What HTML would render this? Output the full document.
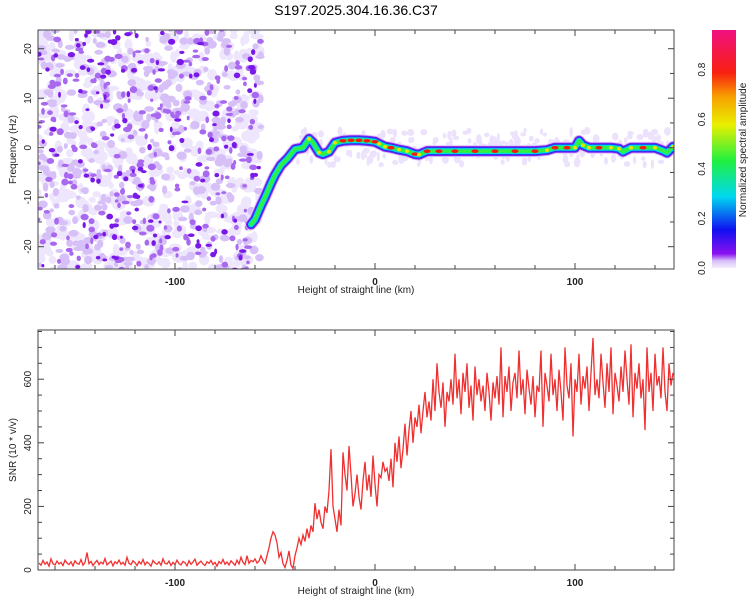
<!DOCTYPE html>
<html><head><meta charset="utf-8"><style>
body{margin:0;background:#fff;width:750px;height:600px;overflow:hidden;font-family:"Liberation Sans",sans-serif}
svg text{font-family:"Liberation Sans",sans-serif}
</style></head><body>
<svg id="c" width="750" height="600" viewBox="0 0 750 600" xmlns="http://www.w3.org/2000/svg">
<defs>
<linearGradient id="cb" x1="0" y1="1" x2="0" y2="0">
<stop offset="0" stop-color="#f4eefc"/><stop offset="0.03" stop-color="#d8c0f8"/><stop offset="0.06" stop-color="#8a10f0"/>
<stop offset="0.16" stop-color="#1010f0"/><stop offset="0.3" stop-color="#00d8f0"/><stop offset="0.45" stop-color="#20f040"/>
<stop offset="0.6" stop-color="#e8f000"/><stop offset="0.72" stop-color="#f8a000"/><stop offset="0.82" stop-color="#f82010"/>
<stop offset="1" stop-color="#f01080"/></linearGradient>
<clipPath id="clipTop"><rect x="38" y="30" width="636" height="239"/></clipPath>
<clipPath id="clipBot"><rect x="38" y="330" width="636" height="240"/></clipPath>
</defs>
<text x="356" y="15" font-size="14" text-anchor="middle">S197.2025.304.16.36.C37</text>
<g id="topPanel"></g>
<g id="botPanel"></g>
<g id="cbar">
<rect x="712" y="30" width="24" height="238" fill="url(#cb)"/>
</g>
</svg>
<script>
// ---- data ----
const ridgeKm  = [-62,-60,-57,-55,-52,-50,-47,-44,-40,-36,-33,-31,-28,-26,-23,-20,-16,-12,-8,-4,0,2,5,8,12,16,20,22,26,32,40,50,60,70,80,86,90,96,100,102,104,107,112,118,122,124,128,134,140,144,146,149];
const ridgeHz  = [-15.5,-14.5,-11.7,-10,-7.2,-5.5,-3.5,-2.3,-0.3,0,1.8,1,-1,-1.3,-0.8,1,1.4,1.5,1.5,1.4,1.2,0.8,0.2,0,-0.4,-0.7,-1.3,-1.4,-0.7,-0.7,-0.7,-0.7,-0.7,-0.7,-0.7,-0.5,0,0,0,1.4,0.5,0,0,0,-0.2,-0.8,0,0,0,-0.6,-1,0.2];
const ridgeAmp = [0.4,0.45,0.3,0.35,0.3,0.3,0.35,0.4,0.45,0.5,0.7,0.6,0.7,0.5,0.8,0.75,0.9,0.95,0.95,0.9,0.85,0.8,0.8,0.85,0.7,0.75,0.85,0.7,0.85,0.85,0.9,0.85,0.9,0.85,0.9,0.7,0.85,0.9,0.8,0.6,0.7,0.8,0.85,0.8,0.7,0.6,0.8,0.85,0.7,0.6,0.5,0.8];
const snrStart = -168;
const snrValues = [
22,15,30,18,25,12,35,20,16,28, 19,24,14,31,22,17,26,13,29,21, 18,33,15,24,55,20,27,14,23,30,
17,25,19,36,16,22,28,13,26,20, 31,18,24,15,40,21,17,29,23,14, 27,19,33,16,25,20,12,30,22,18,
26,15,35,21,19,28,14,24,17,31, 20,16,27,23,13,29,18,25,34,15, 22,28,19,14,26,21,30,17,24,12,
27,20,33,18,25,16,29,22,15,31, 19,40,24,17,45,21,30,26,35,22, 28,45,30,20,45,70,100,120,110,85,
40,55,20,8,30,60,15,5,45,70, 100,80,110,90,130,100,140,120,210,160, 190,150,130,200,180,250,380,200,160,120,
190,140,370,300,250,390,300,200,240,300, 230,190,280,340,250,300,230,360,270,200, 300,290,340,310,320,280,350,260,400,340,
420,320,380,460,360,440,500,400,480,450, 520,430,500,560,480,530,470,600,500,650, 560,510,590,450,560,530,600,520,680,540,
600,490,620,560,650,510,580,470,640,550, 600,530,580,500,620,560,470,590,540,610, 520,700,480,610,560,640,500,590,620,540,
690,550,600,490,630,570,520,610,480,580, 560,690,450,620,580,530,680,550,600,500, 630,560,470,700,580,540,650,420,600,560,
680,520,610,570,640,500,620,730,550,600, 540,680,590,510,650,560,700,490,620,580, 530,640,560,690,600,520,710,480,620,570,
650,540,600,440,700,560,620,500,680,580, 610,540,700,560,500,650,580,620];
const xTickLabels = [-100,0,100];
const hzTickLabels = [-20,-10,0,10,20];
const snrTickLabels = [0,200,400,600];
const cbTickLabels = [0.0,0.2,0.4,0.6,0.8];

const NS="http://www.w3.org/2000/svg";
function mk(tag,attrs,parent){const e=document.createElementNS(NS,tag);for(const k in attrs)e.setAttribute(k,attrs[k]);parent.appendChild(e);return e;}
const L=38,R=674;
const xS=km=>L+(km+168.5)*(R-L)/318;
const yTop=hz=>147.7-hz*4.95;
const yBot=v=>570-v*0.318;
const cY=v=>268-v*(238/0.96);

const topG=document.getElementById('topPanel'), botG=document.getElementById('botPanel'), cbar=document.getElementById('cbar');

// background speckle texture (decorative)
let seed=12345;function rnd(){seed=(seed*16807)%2147483647;return seed/2147483647;}
const tex=mk('g',{'clip-path':'url(#clipTop)'},topG);


[[520,'#eee6fc',2.5,3.5],[380,'#d6c0f7',2,2.5],[260,'#a868ef',1.5,2],[130,'#7a18e8',1.4,1.8]].forEach(([n,col,r0,dr])=>{
  for(let i=0;i<n;i++){const km=-169+rnd()*112,hz=-25+rnd()*50;
    mk('ellipse',{cx:xS(km),cy:yTop(hz),rx:r0+rnd()*dr*1.3,ry:r0+rnd()*dr,fill:col},tex);}
});
for(let i=0;i<200;i++){const km=-40+rnd()*190,hz=-3.5+rnd()*7;mk('ellipse',{cx:xS(km),cy:yTop(hz),rx:1.5+rnd()*2,ry:2+rnd()*3,fill:'#ece2fb'},tex);}

// ridge
const rg=mk('g',{'clip-path':'url(#clipTop)'},topG);


const pts=ridgeKm.map((k,i)=>xS(k)+','+yTop(ridgeHz[i])).join(' ');
[[12,'#dccafa'],[10,'#8a20f0'],[8,'#2030f0'],[6,'#00d8e8'],[3.5,'#30f040']].forEach(([w,c])=>mk('polyline',{points:pts,fill:'none',stroke:c,'stroke-width':w,'stroke-linejoin':'round','stroke-linecap':'round'},rg));
ridgeKm.forEach((k,i)=>{const a=ridgeAmp[i];if(a<0.65)return;
  const d=mk('ellipse',{cx:xS(k),cy:yTop(ridgeHz[i]),rx:a>0.8?3.5:2,ry:1.8,fill:a>0.8?'#f41c10':'#f0e000'},rg);
  
  });

// SNR line
const sp=snrValues.map((v,i)=>xS(snrStart+i)+','+yBot(v)).join(' ');
const ln=mk('polyline',{points:sp,fill:'none',stroke:'#f03030','stroke-width':1.3,'clip-path':'url(#clipBot)'},botG);



// axes
function frame(g,y0,y1,name,yfun,minorStep,yMin,yMax,labels,ylab){
  const f=mk('rect',{x:L,y:y0,width:R-L,height:y1-y0,fill:'none',stroke:'#444','stroke-width':1},g);
  
  
  for(let k=-160;k<=140;k+=20){const x=xS(k),big=k%100===0?6:4;
    mk('line',{x1:x,y1:y1,x2:x,y2:y1-big,stroke:'#444'},g);mk('line',{x1:x,y1:y0,x2:x,y2:y0+big,stroke:'#444'},g);}
  xTickLabels.forEach(v=>{const t=mk('text',{x:xS(v),y:y1+16,'font-size':10,'font-weight':'bold','text-anchor':'middle',fill:'#222'},g);t.textContent=v;
    
    });
  const xl=mk('text',{x:356,y:y1+24,'font-size':10,'text-anchor':'middle',fill:'#222'},g);xl.textContent='Height of straight line (km)';
  
  
  for(let v=Math.ceil(yMin/minorStep)*minorStep;v<=yMax;v+=minorStep){const y=yfun(v),big=labels.includes(v)?6:4;
    mk('line',{x1:L,y1:y,x2:L+big,y2:y,stroke:'#444'},g);mk('line',{x1:R,y1:y,x2:R-big,y2:y,stroke:'#444'},g);}
  labels.forEach(v=>{const y=yfun(v);const t=mk('text',{x:0,y:0,'font-size':10,'text-anchor':'middle',fill:'#222',transform:`translate(31,${y}) rotate(-90)`},g);t.textContent=v;
    
    });
  const yl=mk('text',{x:0,y:0,'font-size':10,'text-anchor':'middle',fill:'#222',transform:`translate(16,${(y0+y1)/2}) rotate(-90)`},g);yl.textContent=ylab;
  
  
}
frame(topG,30,269,'spectrogram',yTop,5,-24,24,hzTickLabels,'Frequency (Hz)');
frame(botG,330,570,'snr',yBot,50,0,750,snrTickLabels,'SNR (10 * v/v)');

cbTickLabels.forEach(v=>{const t=mk('text',{x:0,y:0,'font-size':10,'text-anchor':'middle',fill:'#222',transform:`translate(705,${cY(v)}) rotate(-90)`},cbar);t.textContent=v.toFixed(1);
  
  });
const ct=mk('text',{x:0,y:0,'font-size':10,'text-anchor':'middle',fill:'#222',transform:'translate(746,150) rotate(-90)'},cbar);ct.textContent='Normalized spectral amplitude';


</script>
</body></html>
